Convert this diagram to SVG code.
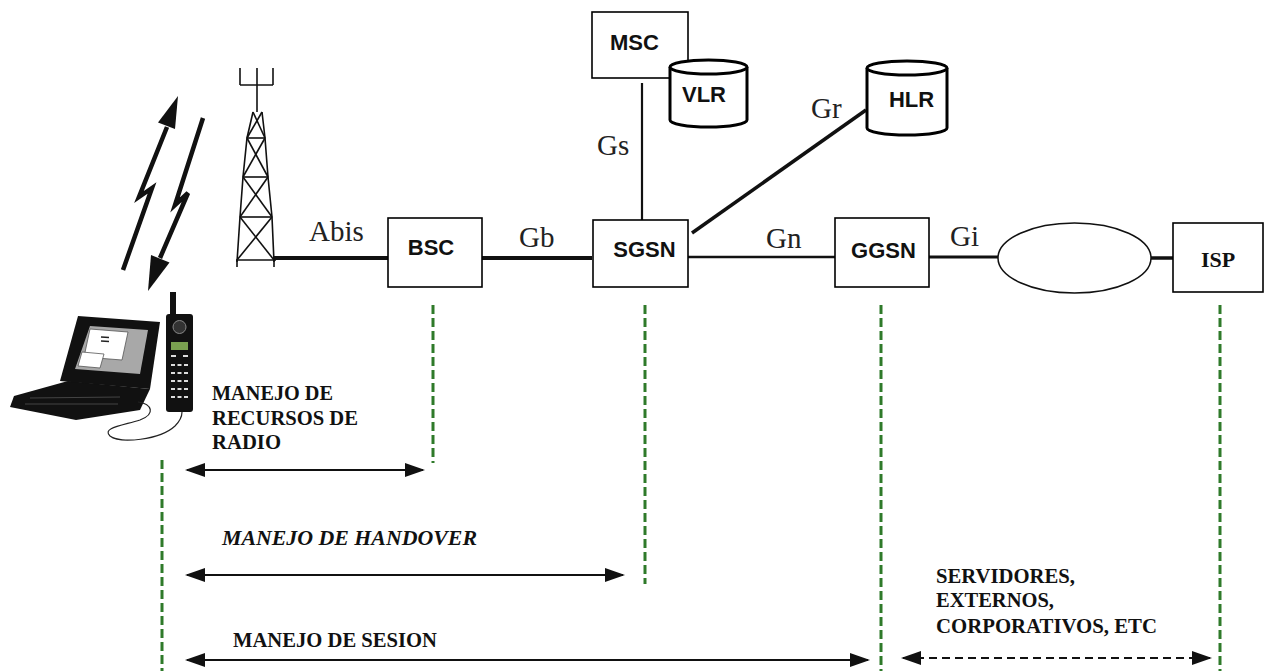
<svg xmlns="http://www.w3.org/2000/svg" width="1267" height="671" viewBox="0 0 1267 671">
<style>
.box{fill:#fff;stroke:#000;stroke-width:1.6}
.cyl{fill:#fff;stroke:#000;stroke-width:3}
.nl{font-family:"Liberation Sans",Arial,sans-serif;font-weight:bold;font-size:22px;fill:#111;text-anchor:middle}
.cl{font-family:"Liberation Serif","Times New Roman",serif;font-size:29px;fill:#222}
.bt{font-family:"Liberation Serif","Times New Roman",serif;font-weight:bold;font-size:21px;fill:#111}
.grn{stroke:#2f7a2a;stroke-width:3;stroke-dasharray:9 4;fill:none}
.arr{stroke:#111;stroke-width:2;fill:none;marker-start:url(#ah);marker-end:url(#ah)}
.tw{stroke:#111;stroke-width:1.6;fill:none}
</style>
<defs>
<marker id="ah" viewBox="0 0 20 14" refX="18" refY="7" markerWidth="20" markerHeight="14" markerUnits="userSpaceOnUse" orient="auto-start-reverse">
<path d="M0,0 L20,7 L0,14 Z" fill="#111"/>
</marker>
</defs>
<rect width="1267" height="671" fill="#fff"/>

<g id="connectors">
<line x1="273" y1="258" x2="388" y2="258" stroke="#111" stroke-width="4"/>
<line x1="482" y1="258" x2="592" y2="258" stroke="#111" stroke-width="4"/>
<line x1="688" y1="257" x2="835" y2="257" stroke="#111" stroke-width="2.5"/>
<line x1="929" y1="257" x2="998" y2="257" stroke="#111" stroke-width="3"/>
<line x1="1151" y1="258" x2="1173" y2="258" stroke="#111" stroke-width="3.5"/>
<line x1="642" y1="83" x2="642" y2="220" stroke="#111" stroke-width="2.2"/>
<line x1="692" y1="233" x2="866" y2="110" stroke="#111" stroke-width="3.5"/>
<text class="cl" x="309" y="241">Abis</text>
<text class="cl" x="519" y="247">Gb</text>
<text class="cl" x="597" y="155">Gs</text>
<text class="cl" x="811" y="118">Gr</text>
<text class="cl" x="766" y="248">Gn</text>
<text class="cl" x="950" y="246">Gi</text>
</g>

<g id="tower">
<polyline class="tw" points="253,112 247,138 243,177 240,217 237,262"/>
<polyline class="tw" points="262,112 265,138 268,177 272,217 274,262"/>
<line class="tw" x1="247" y1="138" x2="265" y2="138"/>
<line class="tw" x1="243" y1="177" x2="268" y2="177"/>
<line class="tw" x1="240" y1="217" x2="272" y2="217"/>
<line class="tw" x1="236" y1="260" x2="276" y2="260"/>
<line class="tw" x1="253" y1="112" x2="265" y2="138"/>
<line class="tw" x1="262" y1="112" x2="247" y2="138"/>
<line class="tw" x1="247" y1="138" x2="268" y2="177"/>
<line class="tw" x1="265" y1="138" x2="243" y2="177"/>
<line class="tw" x1="243" y1="177" x2="272" y2="217"/>
<line class="tw" x1="268" y1="177" x2="240" y2="217"/>
<line class="tw" x1="240" y1="217" x2="274" y2="260"/>
<line class="tw" x1="272" y1="217" x2="237" y2="260"/>
<line class="tw" x1="237" y1="260" x2="237" y2="267"/>
<line class="tw" x1="274" y1="260" x2="274" y2="267"/>
<line class="tw" x1="257" y1="68" x2="257" y2="112"/>
<line class="tw" x1="240" y1="85" x2="273" y2="85"/>
<line class="tw" x1="240" y1="68" x2="240" y2="85"/>
<line class="tw" x1="273" y1="68" x2="273" y2="85"/>
</g>

<g id="radio-link">
<polyline points="167,127 139,197 152,188 123,270" fill="none" stroke="#111" stroke-width="4.5" stroke-linejoin="miter"/>
<polygon points="178,96 175,129 158,122.5" fill="#111"/>
<polyline points="203,118 175,205 188,193 160,258" fill="none" stroke="#111" stroke-width="4.5"/>
<polygon points="148,291 169.5,262.5 151,255" fill="#111"/>
</g>

<g id="mobile-station">
<polygon points="10,407 14,396 68,381 150,389 140,410 76,420" fill="#111"/>
<line x1="30" y1="398" x2="120" y2="397" stroke="#444" stroke-width="1"/>
<line x1="25" y1="404" x2="118" y2="404" stroke="#444" stroke-width="1"/>
<polygon points="78,316 160,322 150,389 60,381" fill="#111"/>
<polygon points="90,326 148,330 140,374 75,369" fill="#a8a8a8"/>
<polygon points="90,329 128,332 122,360 84,357" fill="#fff" stroke="#555" stroke-width="0.8"/>
<polygon points="82,352 104,354 100,368 78,366" fill="#fff" stroke="#555" stroke-width="0.8"/>
<line x1="101" y1="337" x2="109" y2="337.5" stroke="#222" stroke-width="1.5"/>
<line x1="101" y1="341" x2="109" y2="341.5" stroke="#222" stroke-width="1.5"/>
<path d="M138,402 C152,404 156,414 140,420 C120,426 102,428 110,436 C120,444 160,440 175,426 C181,420 182,414 182,412" fill="none" stroke="#222" stroke-width="1.2"/>
<rect x="170" y="292" width="6" height="24" fill="#111"/>
<rect x="166" y="314" width="27" height="98" rx="3" fill="#111"/>
<circle cx="179.5" cy="327" r="6.5" fill="#333" stroke="#888" stroke-width="1"/>
<rect x="171" y="342" width="17" height="8" fill="#7aa050"/>
<rect x="171" y="355" width="5" height="2" fill="#ddd"/>
<rect x="183" y="355" width="5" height="2" fill="#ddd"/>
<g fill="#ddd">
<rect x="171" y="364" width="4" height="2"/><rect x="177.5" y="364" width="4" height="2"/><rect x="184" y="364" width="4" height="2"/>
<rect x="171" y="372" width="4" height="2"/><rect x="177.5" y="372" width="4" height="2"/><rect x="184" y="372" width="4" height="2"/>
<rect x="171" y="380" width="4" height="2"/><rect x="177.5" y="380" width="4" height="2"/><rect x="184" y="380" width="4" height="2"/>
<rect x="171" y="388" width="4" height="2"/><rect x="177.5" y="388" width="4" height="2"/><rect x="184" y="388" width="4" height="2"/>
<rect x="171" y="396" width="4" height="2"/><rect x="177.5" y="396" width="4" height="2"/><rect x="184" y="396" width="4" height="2"/>
</g>
</g>

<g id="bsc"><rect class="box" x="388" y="218" width="94" height="69"/><text class="nl" x="431" y="255">BSC</text></g>
<g id="sgsn"><rect class="box" x="593" y="220" width="95" height="67"/><text class="nl" x="644.5" y="257">SGSN</text></g>
<g id="msc"><rect class="box" x="592" y="12" width="96" height="66"/><text class="nl" x="634.5" y="50">MSC</text></g>
<g id="vlr">
<path class="cyl" d="M670,67 A38.5,7 0 0 1 747,67 V120 A38.5,7 0 0 1 670,120 Z"/>
<path class="cyl" d="M670,67 A38.5,7 0 0 0 747,67"/>
<text class="nl" x="704" y="102">VLR</text>
</g>
<g id="hlr">
<path class="cyl" d="M867,68 A40,7 0 0 1 947,68 V128 A40,7 0 0 1 867,128 Z"/>
<path class="cyl" d="M867,68 A40,7 0 0 0 947,68"/>
<text class="nl" x="911.5" y="107">HLR</text>
</g>
<g id="ggsn"><rect class="box" x="835" y="218" width="94" height="69"/><text class="nl" x="883.5" y="258">GGSN</text></g>
<g id="network"><ellipse cx="1074.5" cy="258" rx="76.5" ry="35" fill="#fff" stroke="#111" stroke-width="1.5"/></g>
<g id="isp"><rect class="box" x="1173" y="223" width="90" height="69"/><text x="1218" y="267" text-anchor="middle" font-family="Liberation Serif,'Times New Roman',serif" font-weight="bold" font-size="22" fill="#111">ISP</text></g>

<g id="boundaries">
<line class="grn" x1="162" y1="460" x2="162" y2="671"/>
<line class="grn" x1="433" y1="305" x2="433" y2="463"/>
<line class="grn" x1="645" y1="305" x2="645" y2="584"/>
<line class="grn" x1="881" y1="305" x2="881" y2="671"/>
<line class="grn" x1="1220" y1="305" x2="1220" y2="671"/>
</g>

<g id="functions">
<text class="bt" x="212" y="400" textLength="121" lengthAdjust="spacingAndGlyphs">MANEJO DE</text>
<text class="bt" x="212" y="425" textLength="146" lengthAdjust="spacingAndGlyphs">RECURSOS DE</text>
<text class="bt" x="212" y="449" textLength="69" lengthAdjust="spacingAndGlyphs">RADIO</text>
<line class="arr" x1="187" y1="470" x2="423" y2="470"/>
<text class="bt" x="222" y="545" font-style="italic" textLength="255" lengthAdjust="spacingAndGlyphs">MANEJO DE HANDOVER</text>
<line class="arr" x1="187" y1="575" x2="623" y2="575"/>
<text class="bt" x="233" y="647" textLength="204" lengthAdjust="spacingAndGlyphs">MANEJO DE SESION</text>
<line class="arr" x1="187" y1="660" x2="868" y2="660"/>
<text class="bt" x="936" y="583" textLength="139" lengthAdjust="spacingAndGlyphs">SERVIDORES,</text>
<text class="bt" x="936" y="607" textLength="118" lengthAdjust="spacingAndGlyphs">EXTERNOS,</text>
<text class="bt" x="936" y="633" textLength="221" lengthAdjust="spacingAndGlyphs">CORPORATIVOS, ETC</text>
<line class="arr" x1="903" y1="658" x2="1210" y2="658" stroke-dasharray="8 5"/>
</g>
</svg>
